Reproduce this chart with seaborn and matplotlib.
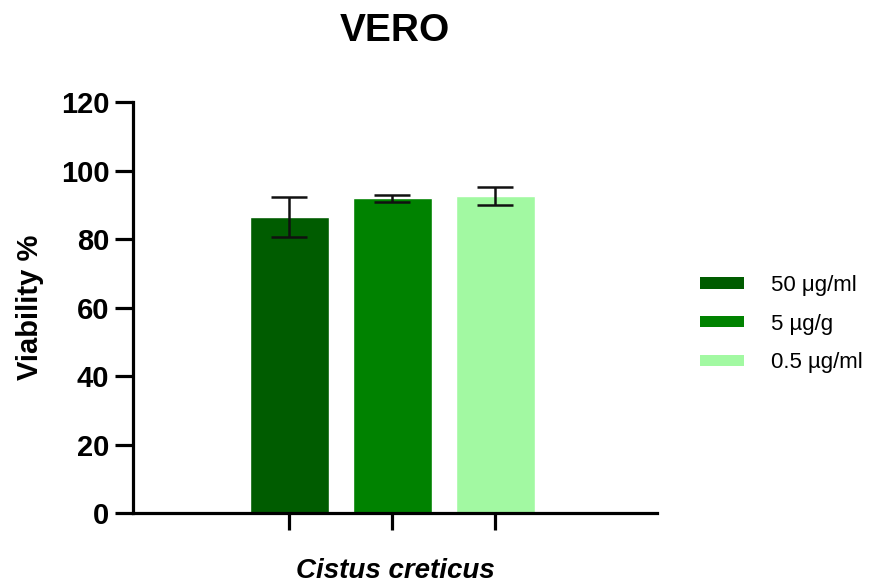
import matplotlib
matplotlib.use("Agg")
import matplotlib.pyplot as plt
from matplotlib.patches import Patch
import seaborn as sns

# Cell viability on VERO cells for three extract concentrations
doses = ["50 μg/ml", "5 µg/g", "0.5 µg/ml"]
viability_mean = [86.5, 91.9, 92.5]
viability_sd = [5.8, 1.0, 2.6]
bar_colors = ["#005c00", "#008200", "#a2f9a2"]
y_ticks = [0, 20, 40, 60, 80, 100, 120]

sns.set_theme(style="ticks")
plt.rcParams["font.family"] = ["Liberation Sans", "DejaVu Sans"]
plt.rcParams["text.color"] = "black"
plt.rcParams["axes.labelcolor"] = "black"

fig = plt.figure(figsize=(8.72, 5.83), dpi=100)
ax = fig.add_axes([0.1525, 0.120, 0.601, 0.705])

sns.barplot(x=doses, y=viability_mean, hue=doses, palette=bar_colors,
            width=0.76, errorbar=None, legend=False, ax=ax, saturation=1)
ax.errorbar(x=list(range(len(doses))), y=viability_mean, yerr=viability_sd,
            fmt="none", ecolor="#111111", elinewidth=1.8, capsize=13,
            capthick=1.8, zorder=5)

ax.set_xlim(-1.52, 3.57)
ax.set_ylim(0, 120)
ax.set_yticks(y_ticks)
ax.set_xticks(range(len(doses)))
ax.set_xticklabels([])

sns.despine(ax=ax)
for side in ("left", "bottom"):
    ax.spines[side].set_linewidth(2.3)
    ax.spines[side].set_color("black")
ax.tick_params(axis="y", length=13, width=2.3, pad=4, labelsize=21, colors="black")
ax.tick_params(axis="x", length=12, width=2.3, colors="black")
for lbl in ax.get_yticklabels():
    lbl.set_fontweight("bold")

ax.set_ylabel("Viability %", fontsize=21, fontweight="bold", labelpad=12)
ax.set_xlabel("Cistus creticus", fontsize=20, fontweight="bold",
              fontstyle="italic", labelpad=17)
ax.set_title("VERO", fontsize=28, fontweight="bold", pad=44)

handles = [Patch(facecolor=c, edgecolor="none") for c in bar_colors]
fig.legend(handles, doses, loc="center left", bbox_to_anchor=(0.790, 0.444),
           frameon=False, fontsize=16, handlelength=2.0, handleheight=0.42,
           handletextpad=1.2, labelspacing=0.8, borderpad=0)

fig.savefig("out.png", dpi=100)
